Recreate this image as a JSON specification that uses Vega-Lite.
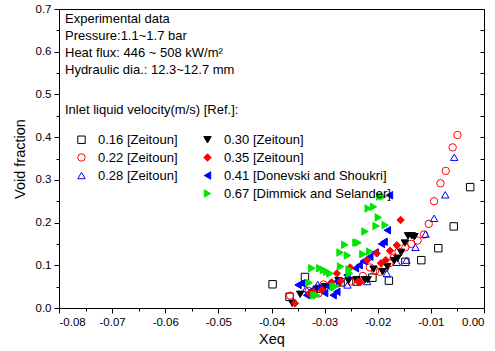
{
  "$schema": "https://vega.github.io/schema/vega-lite/v6.json",
  "width": 425,
  "height": 299,
  "autosize": "none",
  "padding": {"left": 59, "top": 9, "right": 11, "bottom": 43},
  "background": "white",
  "title": {
    "text": ["Experimental data", "Pressure:1.1~1.7 bar", "Heat flux: 446 ~ 508 kW/m²", "Hydraulic dia.: 12.3~12.7 mm"],
    "anchor": "start", "frame": "group", "orient": "top", "baseline": "top",
    "offset": -74, "dx": 6, "fontSize": 13, "fontWeight": "normal", "lineHeight": 17,
    "font": "Liberation Sans", "color": "black"
  },
  "config": {
    "view": {"stroke": "black", "strokeWidth": 1},
    "font": "Liberation Sans",
    "axis": {"grid": false, "domainColor": "black", "tickColor": "black", "labelColor": "black", "titleColor": "black", "labelFont": "Liberation Sans", "titleFont": "Liberation Sans", "titleFontWeight": "normal", "labelOverlap": false, "labelBound": false},
    "legend": {
      "orient": "none", "legendX": 6, "legendY": 95, "columns": 2, "padding": 0,
      "titleFontSize": 13, "titleFontWeight": "normal", "titleLineHeight": 17, "titlePadding": 16, "titleColor": "black", "titleFont": "Liberation Sans", "titleLimit": 400,
      "labelFontSize": 13, "labelColor": "black", "labelFont": "Liberation Sans", "labelLimit": 400,
      "symbolSize": 55, "symbolStrokeWidth": 1, "symbolOpacity": 1, "symbolOffset": 10, "labelOffset": 10,
      "rowPadding": 4, "columnPadding": 13
    }
  },
  "datasets": {
    "pts": [
      {"s": "0.16 [Zeitoun]", "x": -0.0398, "y": 0.0555},
      {"s": "0.16 [Zeitoun]", "x": -0.0337, "y": 0.0726},
      {"s": "0.16 [Zeitoun]", "x": -0.0366, "y": 0.026},
      {"s": "0.16 [Zeitoun]", "x": -0.0210, "y": 0.071},
      {"s": "0.16 [Zeitoun]", "x": -0.0179, "y": 0.064},
      {"s": "0.16 [Zeitoun]", "x": -0.0148, "y": 0.108},
      {"s": "0.16 [Zeitoun]", "x": -0.0118, "y": 0.112},
      {"s": "0.16 [Zeitoun]", "x": -0.0086, "y": 0.140},
      {"s": "0.16 [Zeitoun]", "x": -0.0057, "y": 0.191},
      {"s": "0.16 [Zeitoun]", "x": -0.0026, "y": 0.283},
      {"s": "0.16 [Zeitoun]", "x": -0.0310, "y": 0.045},
      {"s": "0.16 [Zeitoun]", "x": -0.0270, "y": 0.060},
      {"s": "0.16 [Zeitoun]", "x": -0.0240, "y": 0.062},
      {"s": "0.22 [Zeitoun]", "x": -0.0050, "y": 0.405},
      {"s": "0.22 [Zeitoun]", "x": -0.0059, "y": 0.376},
      {"s": "0.22 [Zeitoun]", "x": -0.0072, "y": 0.321},
      {"s": "0.22 [Zeitoun]", "x": -0.0082, "y": 0.292},
      {"s": "0.22 [Zeitoun]", "x": -0.0094, "y": 0.250},
      {"s": "0.22 [Zeitoun]", "x": -0.0104, "y": 0.197},
      {"s": "0.22 [Zeitoun]", "x": -0.0113, "y": 0.172},
      {"s": "0.22 [Zeitoun]", "x": -0.0125, "y": 0.158},
      {"s": "0.22 [Zeitoun]", "x": -0.0137, "y": 0.150},
      {"s": "0.22 [Zeitoun]", "x": -0.0148, "y": 0.142},
      {"s": "0.22 [Zeitoun]", "x": -0.0161, "y": 0.132},
      {"s": "0.22 [Zeitoun]", "x": -0.0170, "y": 0.118},
      {"s": "0.22 [Zeitoun]", "x": -0.0178, "y": 0.105},
      {"s": "0.22 [Zeitoun]", "x": -0.0186, "y": 0.094},
      {"s": "0.22 [Zeitoun]", "x": -0.0196, "y": 0.085},
      {"s": "0.22 [Zeitoun]", "x": -0.0205, "y": 0.087},
      {"s": "0.22 [Zeitoun]", "x": -0.0215, "y": 0.095},
      {"s": "0.22 [Zeitoun]", "x": -0.0228, "y": 0.075},
      {"s": "0.22 [Zeitoun]", "x": -0.0250, "y": 0.062},
      {"s": "0.22 [Zeitoun]", "x": -0.0275, "y": 0.058},
      {"s": "0.22 [Zeitoun]", "x": -0.0302, "y": 0.055},
      {"s": "0.22 [Zeitoun]", "x": -0.0312, "y": 0.034},
      {"s": "0.22 [Zeitoun]", "x": -0.0330, "y": 0.040},
      {"s": "0.22 [Zeitoun]", "x": -0.0365, "y": 0.029},
      {"s": "0.28 [Zeitoun]", "x": -0.0056, "y": 0.353},
      {"s": "0.28 [Zeitoun]", "x": -0.0073, "y": 0.265},
      {"s": "0.28 [Zeitoun]", "x": -0.0094, "y": 0.210},
      {"s": "0.28 [Zeitoun]", "x": -0.0110, "y": 0.173},
      {"s": "0.28 [Zeitoun]", "x": -0.0129, "y": 0.142},
      {"s": "0.28 [Zeitoun]", "x": -0.0146, "y": 0.112},
      {"s": "0.28 [Zeitoun]", "x": -0.0164, "y": 0.107},
      {"s": "0.28 [Zeitoun]", "x": -0.0183, "y": 0.081},
      {"s": "0.28 [Zeitoun]", "x": -0.0220, "y": 0.062},
      {"s": "0.28 [Zeitoun]", "x": -0.0257, "y": 0.054},
      {"s": "0.28 [Zeitoun]", "x": -0.0290, "y": 0.058},
      {"s": "0.28 [Zeitoun]", "x": -0.0313, "y": 0.055},
      {"s": "0.28 [Zeitoun]", "x": -0.0335, "y": 0.045},
      {"s": "0.30 [Zeitoun]", "x": -0.0361, "y": 0.011},
      {"s": "0.30 [Zeitoun]", "x": -0.0346, "y": 0.032},
      {"s": "0.30 [Zeitoun]", "x": -0.0315, "y": 0.044},
      {"s": "0.30 [Zeitoun]", "x": -0.0299, "y": 0.050},
      {"s": "0.30 [Zeitoun]", "x": -0.0274, "y": 0.064},
      {"s": "0.30 [Zeitoun]", "x": -0.0255, "y": 0.064},
      {"s": "0.30 [Zeitoun]", "x": -0.0240, "y": 0.066},
      {"s": "0.30 [Zeitoun]", "x": -0.0224, "y": 0.066},
      {"s": "0.30 [Zeitoun]", "x": -0.0219, "y": 0.066},
      {"s": "0.30 [Zeitoun]", "x": -0.0208, "y": 0.091},
      {"s": "0.30 [Zeitoun]", "x": -0.0191, "y": 0.085},
      {"s": "0.30 [Zeitoun]", "x": -0.0182, "y": 0.097},
      {"s": "0.30 [Zeitoun]", "x": -0.0169, "y": 0.111},
      {"s": "0.30 [Zeitoun]", "x": -0.0163, "y": 0.116},
      {"s": "0.30 [Zeitoun]", "x": -0.0156, "y": 0.130},
      {"s": "0.30 [Zeitoun]", "x": -0.0149, "y": 0.152},
      {"s": "0.30 [Zeitoun]", "x": -0.0143, "y": 0.169},
      {"s": "0.30 [Zeitoun]", "x": -0.0136, "y": 0.169},
      {"s": "0.30 [Zeitoun]", "x": -0.0131, "y": 0.167},
      {"s": "0.41 [Donevski and Shoukri]", "x": -0.0178, "y": 0.264},
      {"s": "0.41 [Donevski and Shoukri]", "x": -0.0182, "y": 0.182},
      {"s": "0.41 [Donevski and Shoukri]", "x": -0.0188, "y": 0.155},
      {"s": "0.41 [Donevski and Shoukri]", "x": -0.0193, "y": 0.150},
      {"s": "0.41 [Donevski and Shoukri]", "x": -0.0205, "y": 0.130},
      {"s": "0.41 [Donevski and Shoukri]", "x": -0.0215, "y": 0.120},
      {"s": "0.41 [Donevski and Shoukri]", "x": -0.0227, "y": 0.110},
      {"s": "0.41 [Donevski and Shoukri]", "x": -0.0235, "y": 0.100},
      {"s": "0.41 [Donevski and Shoukri]", "x": -0.0242, "y": 0.093},
      {"s": "0.41 [Donevski and Shoukri]", "x": -0.0258, "y": 0.077},
      {"s": "0.41 [Donevski and Shoukri]", "x": -0.0277, "y": 0.062},
      {"s": "0.41 [Donevski and Shoukri]", "x": -0.0277, "y": 0.038},
      {"s": "0.41 [Donevski and Shoukri]", "x": -0.0293, "y": 0.050},
      {"s": "0.41 [Donevski and Shoukri]", "x": -0.0310, "y": 0.047},
      {"s": "0.41 [Donevski and Shoukri]", "x": -0.0324, "y": 0.042},
      {"s": "0.41 [Donevski and Shoukri]", "x": -0.0334, "y": 0.030},
      {"s": "0.41 [Donevski and Shoukri]", "x": -0.0343, "y": 0.058},
      {"s": "0.41 [Donevski and Shoukri]", "x": -0.0350, "y": 0.054},
      {"s": "0.41 [Donevski and Shoukri]", "x": -0.0284, "y": 0.030},
      {"s": "0.41 [Donevski and Shoukri]", "x": -0.0300, "y": 0.035},
      {"s": "0.35 [Zeitoun]", "x": -0.0356, "y": 0.011},
      {"s": "0.35 [Zeitoun]", "x": -0.0328, "y": 0.034},
      {"s": "0.35 [Zeitoun]", "x": -0.0321, "y": 0.038},
      {"s": "0.35 [Zeitoun]", "x": -0.0305, "y": 0.042},
      {"s": "0.35 [Zeitoun]", "x": -0.0287, "y": 0.060},
      {"s": "0.35 [Zeitoun]", "x": -0.0277, "y": 0.081},
      {"s": "0.35 [Zeitoun]", "x": -0.0270, "y": 0.063},
      {"s": "0.35 [Zeitoun]", "x": -0.0252, "y": 0.095},
      {"s": "0.35 [Zeitoun]", "x": -0.0237, "y": 0.062},
      {"s": "0.35 [Zeitoun]", "x": -0.0233, "y": 0.060},
      {"s": "0.35 [Zeitoun]", "x": -0.0220, "y": 0.112},
      {"s": "0.35 [Zeitoun]", "x": -0.0202, "y": 0.128},
      {"s": "0.35 [Zeitoun]", "x": -0.0194, "y": 0.105},
      {"s": "0.35 [Zeitoun]", "x": -0.0185, "y": 0.112},
      {"s": "0.35 [Zeitoun]", "x": -0.0177, "y": 0.134},
      {"s": "0.35 [Zeitoun]", "x": -0.0164, "y": 0.147},
      {"s": "0.35 [Zeitoun]", "x": -0.0157, "y": 0.206},
      {"s": "0.67 [Dimmick and Selander]", "x": -0.0190, "y": 0.261},
      {"s": "0.67 [Dimmick and Selander]", "x": -0.0196, "y": 0.261},
      {"s": "0.67 [Dimmick and Selander]", "x": -0.0208, "y": 0.237},
      {"s": "0.67 [Dimmick and Selander]", "x": -0.0218, "y": 0.233},
      {"s": "0.67 [Dimmick and Selander]", "x": -0.0199, "y": 0.212},
      {"s": "0.67 [Dimmick and Selander]", "x": -0.0186, "y": 0.194},
      {"s": "0.67 [Dimmick and Selander]", "x": -0.0203, "y": 0.192},
      {"s": "0.67 [Dimmick and Selander]", "x": -0.0224, "y": 0.179},
      {"s": "0.67 [Dimmick and Selander]", "x": -0.0237, "y": 0.153},
      {"s": "0.67 [Dimmick and Selander]", "x": -0.0241, "y": 0.153},
      {"s": "0.67 [Dimmick and Selander]", "x": -0.0262, "y": 0.148},
      {"s": "0.67 [Dimmick and Selander]", "x": -0.0271, "y": 0.130},
      {"s": "0.67 [Dimmick and Selander]", "x": -0.0228, "y": 0.126},
      {"s": "0.67 [Dimmick and Selander]", "x": -0.0257, "y": 0.123},
      {"s": "0.67 [Dimmick and Selander]", "x": -0.0215, "y": 0.132},
      {"s": "0.67 [Dimmick and Selander]", "x": -0.0324, "y": 0.093},
      {"s": "0.67 [Dimmick and Selander]", "x": -0.0309, "y": 0.093},
      {"s": "0.67 [Dimmick and Selander]", "x": -0.0302, "y": 0.089},
      {"s": "0.67 [Dimmick and Selander]", "x": -0.0296, "y": 0.085},
      {"s": "0.67 [Dimmick and Selander]", "x": -0.0290, "y": 0.081},
      {"s": "0.67 [Dimmick and Selander]", "x": -0.0270, "y": 0.097},
      {"s": "0.67 [Dimmick and Selander]", "x": -0.0254, "y": 0.090},
      {"s": "0.67 [Dimmick and Selander]", "x": -0.0253, "y": 0.081},
      {"s": "0.67 [Dimmick and Selander]", "x": -0.0280, "y": 0.050},
      {"s": "0.67 [Dimmick and Selander]", "x": -0.0284, "y": 0.050},
      {"s": "0.67 [Dimmick and Selander]", "x": -0.0315, "y": 0.030},
      {"s": "0.67 [Dimmick and Selander]", "x": -0.0320, "y": 0.030},
      {"s": "0.67 [Dimmick and Selander]", "x": -0.0329, "y": 0.059}
    ],
    "frame": [{"y": 0}, {"y": 0.7}]
  },
  "layer": [
    {
      "data": {"name": "pts"},
      "mark": {"type": "point", "opacity": 1, "strokeWidth": 1, "size": 55},
      "encoding": {
        "x": {
          "field": "x", "type": "quantitative",
          "scale": {"domain": [-0.08, 0], "nice": false, "zero": false},
          "axis": {
            "title": "Xeq", "titleFontSize": 14.5, "titlePadding": 5,
            "labelFontSize": 11.5, "labelPadding": 3,
            "values": [-0.08, -0.075, -0.07, -0.065, -0.06, -0.055, -0.05, -0.045, -0.04, -0.035, -0.03, -0.025, -0.02, -0.015, -0.01, -0.005, 0],
            "labelExpr": "abs(datum.value*100 - round(datum.value*100)) < 0.001 ? replace(format(datum.value, '.2f'), '\u2212', '-') : ''",
            "tickSize": {"condition": {"test": "abs(datum.value*100 - round(datum.value*100)) < 0.001", "value": 5}, "value": 3}
          }
        },
        "y": {
          "field": "y", "type": "quantitative",
          "scale": {"domain": [0, 0.7], "nice": false},
          "axis": {
            "title": "Void fraction", "titleFontSize": 14.5, "titlePadding": 8,
            "labelFontSize": 11.5, "labelPadding": 3,
            "values": [0, 0.05, 0.1, 0.15, 0.2, 0.25, 0.3, 0.35, 0.4, 0.45, 0.5, 0.55, 0.6, 0.65, 0.7],
            "labelExpr": "abs(datum.value*10 - round(datum.value*10)) < 0.001 ? format(datum.value, '.1f') : ''",
            "tickSize": {"condition": {"test": "abs(datum.value*10 - round(datum.value*10)) < 0.001", "value": 5}, "value": 3}
          }
        },
        "shape": {
          "field": "s", "type": "nominal",
          "scale": {
            "domain": ["0.16 [Zeitoun]", "0.22 [Zeitoun]", "0.28 [Zeitoun]", " ", "0.30 [Zeitoun]", "0.35 [Zeitoun]", "0.41 [Donevski and Shoukri]", "0.67 [Dimmick and Selander]"],
            "range": ["square", "circle", "triangle-up", "circle", "triangle-down", "diamond", "triangle-left", "triangle-right"]
          },
          "legend": {"title": "Inlet liquid velocity(m/s) [Ref.]:"}
        },
        "stroke": {
          "field": "s", "type": "nominal",
          "scale": {
            "domain": ["0.16 [Zeitoun]", "0.22 [Zeitoun]", "0.28 [Zeitoun]", " ", "0.30 [Zeitoun]", "0.35 [Zeitoun]", "0.41 [Donevski and Shoukri]", "0.67 [Dimmick and Selander]"],
            "range": ["black", "#ff0000", "#0000ff", "transparent", "black", "#ff0000", "#0000ff", "#00e600"]
          },
          "legend": {"title": "Inlet liquid velocity(m/s) [Ref.]:"}
        },
        "fill": {
          "field": "s", "type": "nominal",
          "scale": {
            "domain": ["0.16 [Zeitoun]", "0.22 [Zeitoun]", "0.28 [Zeitoun]", " ", "0.30 [Zeitoun]", "0.35 [Zeitoun]", "0.41 [Donevski and Shoukri]", "0.67 [Dimmick and Selander]"],
            "range": ["transparent", "transparent", "transparent", "transparent", "black", "#ff0000", "#0000ff", "#00e600"]
          },
          "legend": {"title": "Inlet liquid velocity(m/s) [Ref.]:"}
        }
      }
    },
    {
      "data": {"name": "frame"},
      "mark": {"type": "point", "opacity": 0},
      "encoding": {
        "y": {
          "field": "y", "type": "quantitative",
          "axis": {
            "orient": "right", "title": null, "labels": false, "domain": false,
            "values": [0, 0.05, 0.1, 0.15, 0.2, 0.25, 0.3, 0.35, 0.4, 0.45, 0.5, 0.55, 0.6, 0.65, 0.7],
            "tickSize": 4, "offset": -4
          }
        }
      }
    }
  ],
  "resolve": {"axis": {"y": "independent"}}
}
